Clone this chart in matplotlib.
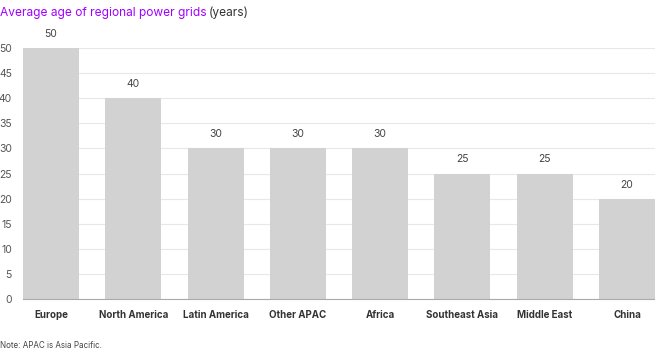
import matplotlib
matplotlib.use("Agg")
import matplotlib.pyplot as plt

categories = ["Europe", "North America", "Latin America", "Other APAC", "Africa",
              "Southeast Asia", "Middle East", "China"]
values = [50, 40, 30, 30, 30, 25, 25, 20]
yticks = [0, 5, 10, 15, 20, 25, 30, 35, 40, 45, 50]

plt.rcParams['font.family'] = ['Inter', 'DejaVu Sans']

fig = plt.figure(figsize=(6.55, 3.51), dpi=100)
ax = fig.add_axes([23/655, 1 - 299/351, 1 - 23/655, (299 - 48)/351])

x = range(len(categories))
ax.bar(x, values, width=0.68, color="#d2d2d2", zorder=2)
ax.set_xlim(-0.34, len(categories) - 1 + 0.34)
ax.set_ylim(0, 50)
ax.set_yticks(yticks)
ax.set_yticklabels([str(t) for t in yticks], color="#555555", fontsize=7.5)
ax.grid(axis="y", color="#e8e8e8", linewidth=0.8, zorder=0)
ax.set_xticks(list(x))
ax.set_xticklabels(categories, fontsize=7, fontweight="bold", color="#333333")
ax.tick_params(axis="both", length=0)
ax.tick_params(axis="x", pad=8)
ax.tick_params(axis="y", pad=8)
for s in ["top", "right", "left"]:
    ax.spines[s].set_visible(False)
ax.spines["bottom"].set_color("#aaaaaa")
ax.spines["bottom"].set_linewidth(0.8)
ax.spines["bottom"].set_zorder(3)
for i, v in enumerate(values):
    ax.annotate(str(v), (i, v), xytext=(0, 6.5), textcoords="offset points",
                ha="center", va="bottom", fontsize=7.5, color="#444444", clip_on=False)

t1 = fig.text(0.0, 1 - 13/351, "Average age of regional power grids", color="#a100ff",
              fontsize=8.6, va="center", ha="left")
fig.canvas.draw()
bb = t1.get_window_extent()
fig.text(bb.x1 / fig.bbox.width + 0.004, 1 - 13/351, "(years)", color="#333333",
         fontsize=8.6, va="center", ha="left")
fig.text(0.0, 1 - 346/351, "Note: APAC is Asia Pacific.", color="#444444",
         fontsize=5.8, va="center", ha="left")

fig.savefig("out.png", dpi=100)
